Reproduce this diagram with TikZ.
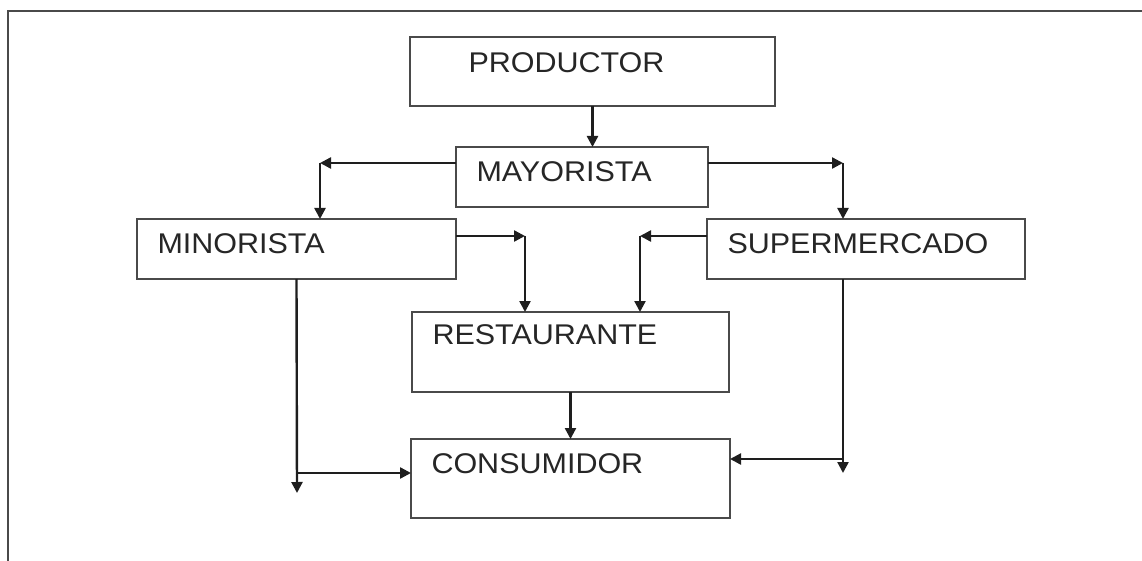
\documentclass[tikz,border=0pt]{standalone}
\usepackage{fontspec}
\setmainfont{Liberation Sans}[FakeStretch=1.07]
\usetikzlibrary{arrows.meta}
\definecolor{linea}{HTML}{4A4A4A}
\definecolor{flechacol}{HTML}{1E1E1E}
\definecolor{texto}{HTML}{262626}
\tikzset{
	caja/.style={draw=linea, line width=2pt, anchor=north west, outer sep=0pt,
		inner xsep=20.5pt, inner ysep=0pt, align=left, text=texto,
		font=\fontsize{28.5}{30}\selectfont},
	flecha/.style={draw=flechacol, line width=2.4pt,
		-{Triangle[length=11pt,width=11pt]}},
}

\begin{document}
\begin{tikzpicture}[x=1pt,y=-1pt]
		\useasboundingbox (0,0) rectangle (1142,561);
		\draw[draw=linea, line width=2.6pt] (8,561) -- (8,11) -- (1142,11);
		\node[caja, text width=324pt, text height=36pt, text depth=33pt] (prod) at (410,37) {\hspace*{38pt}PRODUCTOR};
		\node[caja, text width=211pt, text height=35pt, text depth=25pt] (may) at (456,147) {MAYORISTA};
		\node[caja, text width=278pt, text height=35pt, text depth=25pt] (min) at (137,219) {MINORISTA};
		\node[caja, text width=277pt, text height=35pt, text depth=25pt] (sup) at (707,219) {SUPERMERCADO};
		\node[caja, text width=276pt, text height=32pt, text depth=48pt] (rest) at (412,312) {RESTAURANTE};
		\node[caja, text width=278pt, text height=34pt, text depth=45pt] (cons) at (411,439) {CONSUMIDOR};
		\coordinate (c_{1}) at (320,163);\coordinate (c_{2}) at (843,163);
		\coordinate (c_{3}) at (525,236);\coordinate (c_{4}) at (640,236);
		\coordinate (c_{5}) at (297,493);\coordinate (c_{6}) at (297,473);
		\coordinate (c_{7}) at (843,473);\coordinate (c_{8}) at (843,459);
		\draw[flecha] (prod.south) -- (prod.south |- may.north);
		\draw[flecha] (c_{1} -| may.west) -- (c_{1});
		\draw[flecha] (c_{1}) -- (c_{1} |- min.north);
		\draw[flecha] (c_{2} -| may.east) -- (c_{2});
		\draw[flecha] (c_{2}) -- (c_{2} |- sup.north);
		\draw[flecha] (c_{3} -| min.east) -- (c_{3});
		\draw[flecha] (c_{3}) -- (c_{3} |- rest.north);
		\draw[flecha] (c_{4} -| sup.west) -- (c_{4});
		\draw[flecha] (c_{4}) -- (c_{4} |- rest.north);
		\draw[flecha] (min.south) -- (c_{5});
		\draw[flecha] (c_{6}) -- (c_{6} -| cons.west);
		\draw[flecha] (rest.south) -- (rest.south |- cons.north);
		\draw[flecha] (c_{7} |- sup.south) -- (c_{7});
		\draw[flecha] (c_{8}) -- (c_{8} -| cons.east);
	\end{tikzpicture}
\end{document}
